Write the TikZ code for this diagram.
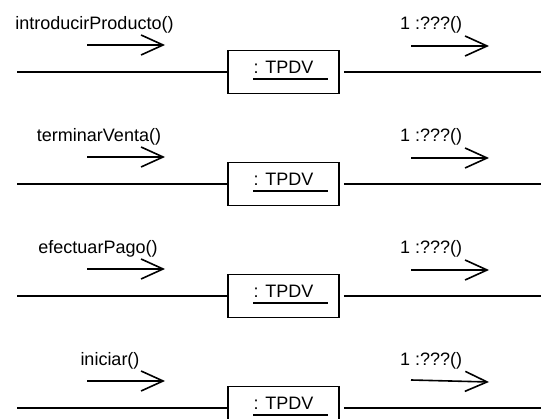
\documentclass[tikz,border=0pt]{standalone}
\usepackage{fontspec}
\setmainfont{Liberation Sans}
\usetikzlibrary{arrows.meta}
\begin{document}
\begin{tikzpicture}[x=1pt,y=-1pt,
  ln/.style={line width=1.6pt},
  obj/.style={draw, line width=1.6pt, minimum width=111pt, minimum height=43pt, inner sep=0pt},
  msg/.style={line width=1.6pt, -{Straight Barb[length=22pt,width=20pt,line width=1.6pt]}},
  lbl/.style={font=\fontsize{18}{21}\selectfont, inner sep=0pt, anchor=base},
]
\useasboundingbox (0,0) rectangle (541,419);
\clip (0,0) rectangle (541,419);
\foreach \i/\L/\lab/\lx/\dy in {1/72/introducirProducto()/94.5/0, 2/184/terminarVenta()/99/0, 3/296/efectuarPago()/98/0, 4/408/iniciar()/110/2}{
  \node[obj] (box\i) at (283.5,\L) {};
  \node[lbl] (name\i) at (283.5,\L+2) {: TPDV};
  \draw[ln] ([yshift=-5pt]name\i.base west) -- ([xshift=14pt,yshift=-5pt]name\i.base east);
  \coordinate (l\i) at (17,\L);
  \coordinate (r\i) at (541,\L);
  \draw[ln] (l\i) -- (box\i.west);
  \draw[ln] ([xshift=4pt]box\i.east) -- (r\i);
  \node[lbl] (in\i) at (\lx,\L-42) {\lab};
  \node[lbl, anchor=base west] (out\i) at (400,\L-42) {1 :???()};
  \coordinate (ia\i) at (87,\L-27);
  \coordinate (ib\i) at (165,\L-27);
  \draw[msg] (ia\i) -- (ib\i);
  \coordinate (oa\i) at (411,\L-26-\dy);
  \coordinate (ob\i) at (489,\L-26);
  \draw[msg] (oa\i) -- (ob\i);
}
\end{tikzpicture}
\end{document}
